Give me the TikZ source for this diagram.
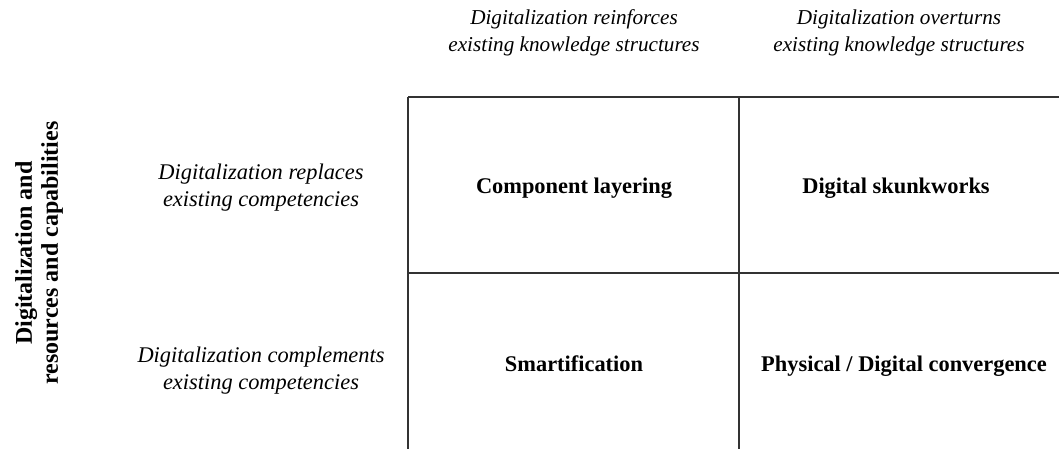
\documentclass[tikz,border=0pt]{standalone}
\usepackage{fontspec}
\setmainfont{Liberation Serif}
\usetikzlibrary{positioning}

\tikzset{
  colhead/.style={font=\fontsize{10.6}{13.5}\selectfont\itshape, align=center},
  rowhead/.style={font=\fontsize{11.2}{13.5}\selectfont\itshape, align=center},
  celltext/.style={font=\fontsize{11.2}{13.5}\selectfont\bfseries, align=center,
    text height=0.7em, text depth=0.22em},
  axislabel/.style={font=\fontsize{12}{13}\selectfont\bfseries, align=center, rotate=90},
  gridline/.style={black!80, line width=0.8pt}
}

\begin{document}
\begin{tikzpicture}[x=0.5pt,y=-0.5pt]
\useasboundingbox (0,0) rectangle (1059,449);

% grid
\coordinate (tl) at (408,97);
\coordinate (tm) at (739,97);
\coordinate (tr) at (1059,97);
\coordinate (ml) at (408,273);
\coordinate (mr) at (1059,273);
\coordinate (bl) at (408,449);
\coordinate (bm) at (739,449);
\draw[gridline] (tl) -- (tr);
\draw[gridline] (ml) -- (mr);
\draw[gridline] (tl) -- (bl);
\draw[gridline] (tm) -- (bm);

% column heads
\node[colhead] (reinforce) at (574,33) {Digitalization reinforces\\existing knowledge structures};
\node[colhead] (overturn) at (899,33) {Digitalization overturns\\existing knowledge structures};

% row heads
\node[rowhead] (replace) at (261,188) {Digitalization replaces\\existing competencies};
\node[rowhead] (complement) at (261,371) {Digitalization complements\\existing competencies};

% cells
\node[celltext] (layering) at (574,189) {Component layering};
\node[celltext] (skunk) at (896,189) {Digital skunkworks};
\node[celltext] (smart) at (574,367) {Smartification};
\node[celltext] (convergence) at (904,367) {Physical / Digital convergence};

% axis
\node[axislabel] (axis) at (39,253) {Digitalization and\\resources and capabilities};
\end{tikzpicture}
\end{document}
